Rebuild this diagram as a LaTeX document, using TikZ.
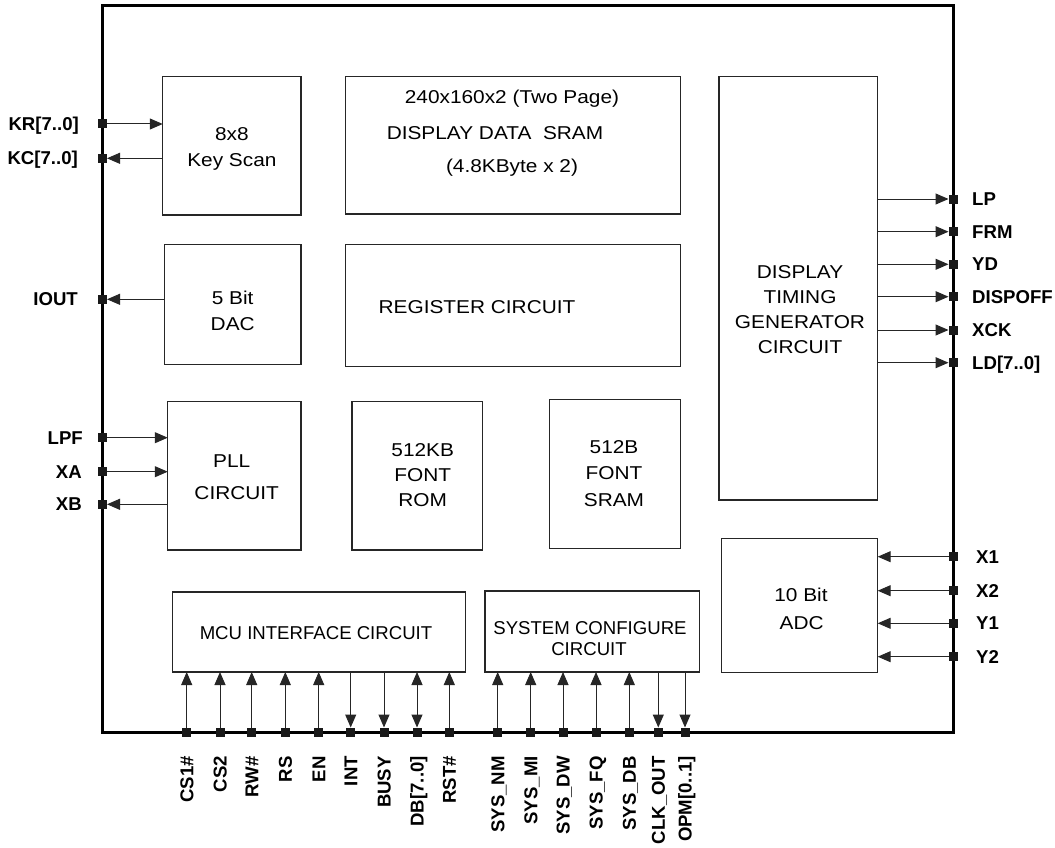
\documentclass[tikz,border=0pt]{standalone}
\usepackage{fontspec}
\setmainfont{Liberation Sans}
\newfontfamily\wideface[FakeStretch=1.12]{Liberation Sans}
\usetikzlibrary{arrows.meta}
\begin{document}
\begin{tikzpicture}[x=1pt,y=-1pt,
  blk/.style={draw=black!85, line width=1.3pt, inner sep=0pt, outer sep=0pt},
  bt/.style={font=\wideface\fontsize{18.6}{22}\selectfont, inner sep=0pt, anchor=base},
  nt/.style={font=\fontsize{18.6}{22}\selectfont, inner sep=0pt, anchor=base},
  pl/.style={font=\bfseries\fontsize{18.6}{22}\selectfont, inner sep=0pt},
  pinsq/.style={rectangle, fill=black!90, minimum size=9pt, inner sep=0pt, outer sep=0pt},
  sig/.style={line width=1pt, draw=black!85, -{Triangle[length=13pt,width=11pt]}},
  sigb/.style={line width=1pt, draw=black!85, {Triangle[length=13pt,width=11pt]}-{Triangle[length=13pt,width=11pt]}}
]
\useasboundingbox (0,0) rectangle (1055,848);
\fill[white] (0,0) rectangle (1055,848);

% chip frame
\node[draw, line width=3pt, inner sep=0pt, minimum width=850.5pt, minimum height=726.5pt] (chip) at (527.75,368.75) {};

% blocks
\node[blk, minimum width=138.3pt, minimum height=138.3pt] (ks) at (231.9,145.9) {};
\node[blk, minimum width=335pt, minimum height=137.3pt] (sram) at (513.2,145.4) {};
\node[blk, minimum width=158.7pt, minimum height=423.3pt] (tim) at (798.4,288.4) {};
\node[blk, minimum width=136.7pt, minimum height=120pt] (dac) at (232.7,304.3) {};
\node[blk, minimum width=335pt, minimum height=122.4pt] (reg) at (513.2,305.5) {};
\node[blk, minimum width=133.3pt, minimum height=148.3pt] (pll) at (234.4,475.9) {};
\node[blk, minimum width=130.7pt, minimum height=148.3pt] (rom) at (417.4,475.9) {};
\node[blk, minimum width=131.4pt, minimum height=149pt] (fsram) at (615,473.8) {};
\node[blk, minimum width=156pt, minimum height=134pt] (adc) at (799.7,605.3) {};
\node[blk, minimum width=293.4pt, minimum height=80pt] (mcu) at (319,632) {};
\node[blk, minimum width=214.3pt, minimum height=81pt] (sys) at (592.2,631.5) {};

% block texts
\node[bt] (ks1) at (231.9,141) {8x8};
\node[bt] (ks2) at (231.9,166.5) {Key Scan};
\node[bt] (sr1) at (512,103.6) {240x160x2 (Two Page)};
\node[bt] (sr2) at (495,139.6) {DISPLAY DATA\ \ SRAM};
\node[bt] (sr3) at (512,172.5) {(4.8KByte x 2)};
\node[bt] (tm1) at (800,278.3) {DISPLAY};
\node[bt] (tm2) at (800,303.3) {TIMING};
\node[bt] (tm3) at (800,328.3) {GENERATOR};
\node[bt] (tm4) at (800,353.3) {CIRCUIT};
\node[bt] (dc1) at (232.7,304.3) {5 Bit};
\node[bt] (dc2) at (232.7,330) {DAC};
\node[bt] (rg1) at (477,313) {REGISTER CIRCUIT};
\node[bt] (pl1) at (231.7,467.3) {PLL};
\node[bt] (pl2) at (236.7,499) {CIRCUIT};
\node[bt] (rm1) at (422.7,456) {512KB};
\node[bt] (rm2) at (422.7,481.7) {FONT};
\node[bt] (rm3) at (422.7,506.7) {ROM};
\node[bt] (fs1) at (614,453.3) {512B};
\node[bt] (fs2) at (614,479) {FONT};
\node[bt] (fs3) at (614,506.2) {SRAM};
\node[bt] (ad1) at (801,601) {10 Bit};
\node[bt] (ad2) at (801.7,629.3) {ADC};
\node[nt] (mc1) at (316,639) {MCU INTERFACE CIRCUIT};
\node[nt] (sy1) at (590,634) {SYSTEM CONFIGURE};
\node[nt] (sy2) at (589,655.7) {CIRCUIT};

% left pins
\node[pinsq] (pKR) at (102.5,124) {};
\node[pinsq] (pKC) at (102.5,158.3) {};
\node[pinsq] (pIO) at (102.5,299.3) {};
\node[pinsq] (pLPF) at (102.5,437.7) {};
\node[pinsq] (pXA) at (102.5,471.7) {};
\node[pinsq] (pXB) at (102.5,504.3) {};
\node[pl, anchor=base east] (lKR) at (79,130.6) {KR[7..0]};
\node[pl, anchor=base east] (lKC) at (78,164.9) {KC[7..0]};
\node[pl, anchor=base east] (lIO) at (78,305.9) {IOUT};
\node[pl, anchor=base east] (lLPF) at (83,444.3) {LPF};
\node[pl, anchor=base east] (lXA) at (82,478.3) {XA};
\node[pl, anchor=base east] (lXB) at (82,510.9) {XB};
\draw[sig] (pKR.east) -- (pKR.east -| ks.west);
\draw[sig] (ks.west |- pKC) -- (pKC.east);
\draw[sig] (dac.west |- pIO) -- (pIO.east);
\draw[sig] (pLPF.east) -- (pLPF.east -| pll.west);
\draw[sig] (pXA.east) -- (pXA.east -| pll.west);
\draw[sig] (pll.west |- pXB) -- (pXB.east);

% right pins (timing generator)
\foreach \nm/\yy/\txt in {LP/199/LP, FRM/231.7/FRM, YD/264.3/YD, DOFF/296.7/DISPOFF, XCK/330/XCK, LD/362.7/LD[7..0]}{
  \node[pinsq] (p\nm) at (953,\yy) {};
  \node[pl, anchor=base west] (l\nm) at (972,\yy+6.6) {\txt};
  \draw[sig] (tim.east |- p\nm) -- (p\nm.west);
}
% right pins (ADC)
\foreach \nm/\yy in {X1/556.7, X2/590.7, Y1/623.3, Y2/656.7}{
  \node[pinsq] (p\nm) at (953,\yy) {};
  \node[pl, anchor=base west] (l\nm) at (976,\yy+6.6) {\nm};
  \draw[sig] (p\nm.west) -- (p\nm.west -| adc.east);
}

% bottom pins
\foreach \nm/\xx/\txt in {CSa/186.7/CS1\#, CSb/220/CS2, RW/251.7/RW\#, RS/285.3/RS, EN/318.7/EN, INT/350.7/INT, BUSY/384/BUSY, DB/417/DB[7..0], RST/449.3/RST\#,
  NM/497.7/SYS\_NM, MI/530.7/SYS\_MI, DW/563/SYS\_DW, FQ/596/SYS\_FQ, SDB/629.3/SYS\_DB, CLK/658.3/CLK\_OUT, OPM/685/OPM[0..1]}{
  \node[pinsq] (p\nm) at (\xx,732) {};
  \node[pl, rotate=90, anchor=base east] (l\nm) at (\xx+6.6,756) {\txt};
}
\foreach \nm in {CSa,CSb,RW,RS,EN,RST}{\draw[sig] (p\nm.north) -- (p\nm.north |- mcu.south);}
\foreach \nm in {INT,BUSY}{\draw[sig] (p\nm.north |- mcu.south) -- (p\nm.north);}
\draw[sigb] (pDB.north |- mcu.south) -- (pDB.north);
\foreach \nm in {NM,MI,DW,FQ,SDB}{\draw[sig] (p\nm.north) -- (p\nm.north |- sys.south);}
\foreach \nm in {CLK,OPM}{\draw[sig] (p\nm.north |- sys.south) -- (p\nm.north);}
\end{tikzpicture}
\end{document}
